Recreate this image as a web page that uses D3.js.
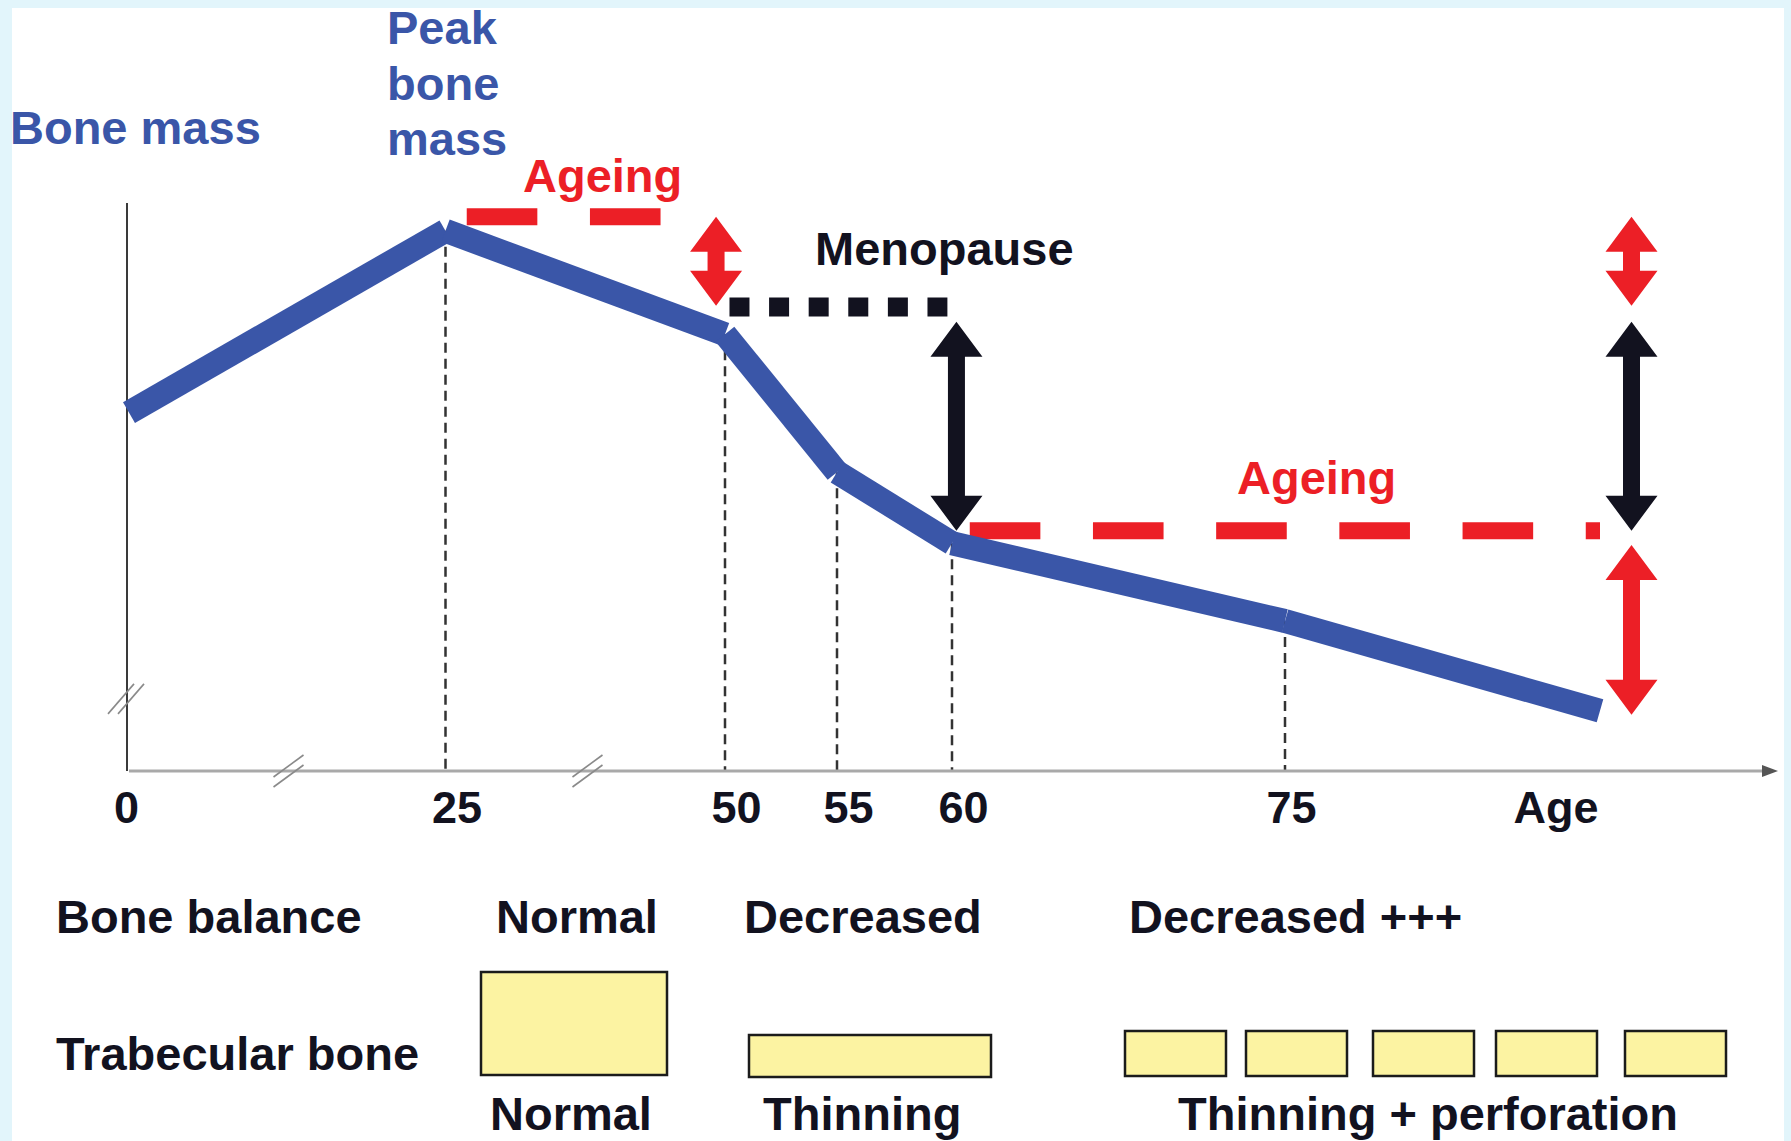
<!DOCTYPE html>
<html>
<head>
<meta charset="utf-8">
<script src="https://cdn.jsdelivr.net/npm/d3@7"></script>
<style>
  html, body { margin: 0; padding: 0; background: #e2f5fb; }
  svg { display: block; }
  text { font-family: "Liberation Sans", Arial, Helvetica, sans-serif; font-weight: bold; }
</style>
</head>
<body>
<svg id="chart" width="1791" height="1141"></svg>
<script>
// ---------------- DATA ----------------
const ages      = [0, 25, 50, 55, 60, 75, 89];
const boneMass  = [63.1, 95.1, 76.9, 52.6, 40.1, 26.4, 10.6];

const tickAges   = [0, 25, 50, 55, 60, 75];
const tickLabels = ["0", "25", "50", "55", "60", "75"];
const guideAges  = [25, 50, 55, 60, 75];

// reference (dashed) levels
const refKind  = ["ageing", "menopause", "ageing"];
const refLevel = [97.6, 81.7, 42.3];
const refFrom  = [26.9, 50.2, 60.8];
const refTo    = [48.9, 59.8, 89];

// double arrows
const arrowKind   = ["ageing", "menopause", "ageing", "menopause", "ageing"];
const arrowAge    = [49.2, 60.2, 90.4, 90.4, 90.4];
const arrowTop    = [97.6, 79.1, 97.6, 79.1, 39.8];
const arrowBottom = [81.9, 42.3, 81.9, 42.3, 9.9];

const annotLabels = ["Ageing", "Menopause", "Ageing"];

const rowTitles     = ["Bone balance", "Trabecular bone"];
const balanceLabels = ["Normal", "Decreased", "Decreased +++"];
const boneLabels    = ["Normal", "Thinning", "Thinning + perforation"];
const plateCounts   = [1, 1, 5];

// ---------------- STYLE / LAYOUT ----------------
const BLUE = "#3a56a8", RED = "#ec1f26", DARK = "#12121f";
const kindColor = { ageing: RED, menopause: DARK };
const FS = 47;

const svg = d3.select("#chart");
svg.append("rect").attr("x", 0).attr("y", 0).attr("width", 1791).attr("height", 1141).attr("fill", "#e2f5fb");
svg.append("rect").attr("x", 12).attr("y", 8).attr("width", 1772).attr("height", 1133).attr("fill", "#ffffff");

// piecewise (broken) age axis
const x = d3.scaleLinear()
  .domain([0, 25, 50, 55, 60, 75, 89])
  .range([129, 445.5, 725, 837, 952, 1285, 1600]);
const y = d3.scaleLinear().domain([0, 100]).range([771, 203]);

// dashed guide verticals
const massAt = a => boneMass[ages.indexOf(a)];
svg.append("g").selectAll("line").data(guideAges).join("line")
  .attr("x1", d => x(d)).attr("x2", d => x(d))
  .attr("y1", d => y(massAt(d))).attr("y2", y(0))
  .attr("stroke", "#333").attr("stroke-width", 2.5).attr("stroke-dasharray", "10,6");

// x axis line (gray) with arrow
svg.append("line").attr("x1", x(0)).attr("x2", 1764).attr("y1", y(0)).attr("y2", y(0))
  .attr("stroke", "#a9a9a9").attr("stroke-width", 3);
svg.append("path").attr("d", `M1762,${y(0) - 6}L1778,${y(0)}L1762,${y(0) + 6}Z`).attr("fill", "#555");

// y axis
svg.append("line").attr("x1", x(0) - 2).attr("x2", x(0) - 2).attr("y1", y(100)).attr("y2", y(0))
  .attr("stroke", "#3a3a3a").attr("stroke-width", 2);

// axis breaks
function brk(cx, cy, dx, dy, ox, oy) {
  const g = svg.append("g");
  [-1, 1].forEach(s => {
    g.append("line")
      .attr("x1", cx - dx + s * ox).attr("y1", cy + dy + s * oy)
      .attr("x2", cx + dx + s * ox).attr("y2", cy - dy + s * oy)
      .attr("stroke", "#8a8a8a").attr("stroke-width", 1.6);
  });
}
brk(x(12.6), y(0), 15, 11, 0, 5);
brk(x(37.7), y(0), 15, 11, 0, 5);
brk(x(0) - 3, y(12.7), 13, 15, 5, 0);

// tick labels via d3 axis
const tickDx = [-3, 11, 11, 11, 11, 6];
const axisG = svg.append("g").attr("transform", `translate(0,${y(0)})`)
  .call(d3.axisBottom(x).tickValues(tickAges).tickSize(0).tickPadding(20)
    .tickFormat((d, i) => tickLabels[i]));
axisG.select(".domain").remove();
axisG.selectAll("text")
  .attr("font-size", 45).attr("font-family", "Liberation Sans, Arial, sans-serif")
  .attr("font-weight", "bold").attr("fill", DARK)
  .attr("dy", "0.71em")
  .attr("dx", (d, i) => tickDx[i]);
svg.append("text").attr("x", 1556).attr("y", 823).attr("text-anchor", "middle")
  .attr("font-size", 45).attr("fill", DARK).text("Age");

// reference dashed lines
const refStyle = {
  ageing:    { w: 17, dash: "70.6,52.6" },
  menopause: { w: 19, dash: "20,19.6" }
};
svg.append("g").selectAll("line").data(refLevel).join("line")
  .attr("x1", (d, i) => x(refFrom[i])).attr("x2", (d, i) => x(refTo[i]))
  .attr("y1", d => y(d)).attr("y2", d => y(d))
  .attr("stroke", (d, i) => kindColor[refKind[i]])
  .attr("stroke-width", (d, i) => refStyle[refKind[i]].w)
  .attr("stroke-dasharray", (d, i) => refStyle[refKind[i]].dash);

// bone mass curve as butt-ended segments
const segs = d3.pairs(d3.zip(ages, boneMass));
const line = d3.line().x(d => x(d[0])).y(d => y(d[1]));
svg.append("g").selectAll("path").data(segs).join("path")
  .attr("d", d => line(d))
  .attr("fill", "none").attr("stroke", BLUE).attr("stroke-width", 24).attr("stroke-linecap", "butt");

// double arrows
function arrowPath(cx, y1, y2) {
  const hl = 35, hw = 26, sw = 8.5;
  const p = d3.path();
  p.moveTo(cx, y1);
  p.lineTo(cx + hw, y1 + hl); p.lineTo(cx + sw, y1 + hl);
  p.lineTo(cx + sw, y2 - hl); p.lineTo(cx + hw, y2 - hl);
  p.lineTo(cx, y2);
  p.lineTo(cx - hw, y2 - hl); p.lineTo(cx - sw, y2 - hl);
  p.lineTo(cx - sw, y1 + hl); p.lineTo(cx - hw, y1 + hl);
  p.closePath();
  return p.toString();
}
svg.append("g").selectAll("path").data(arrowAge).join("path")
  .attr("d", (d, i) => arrowPath(x(d), y(arrowTop[i]), y(arrowBottom[i])))
  .attr("fill", (d, i) => kindColor[arrowKind[i]]);

// annotations
const annotPos = [[523, 192], [815, 265], [1237, 494]];
svg.append("g").selectAll("text").data(annotLabels).join("text")
  .attr("x", (d, i) => annotPos[i][0]).attr("y", (d, i) => annotPos[i][1])
  .attr("font-size", FS).attr("fill", (d, i) => kindColor[refKind[i]])
  .text(d => d);

// blue titles
svg.append("text").attr("x", 10).attr("y", 144).attr("font-size", FS).attr("fill", BLUE).text("Bone mass");
svg.append("g").selectAll("text").data(["Peak", "bone", "mass"]).join("text")
  .attr("x", 387).attr("y", (d, i) => 44 + i * 55.5)
  .attr("font-size", FS).attr("fill", BLUE).text(d => d);

// bottom table
svg.append("g").selectAll("text").data(rowTitles).join("text")
  .attr("x", 56).attr("y", (d, i) => [933, 1070][i])
  .attr("font-size", FS).attr("fill", DARK).text(d => d);

const balX = [496, 744, 1129];
svg.append("g").selectAll("text").data(balanceLabels).join("text")
  .attr("x", (d, i) => balX[i]).attr("y", 933)
  .attr("font-size", FS).attr("fill", DARK).text(d => d);

const boneX = [490, 763, 1178];
svg.append("g").selectAll("text").data(boneLabels).join("text")
  .attr("x", (d, i) => boneX[i]).attr("y", 1130)
  .attr("font-size", FS).attr("fill", DARK).text(d => d);

// trabecular plates
const plateGeom = [
  { xs: [481], y0: 972, w: 186, h: 103 },
  { xs: [749], y0: 1035, w: 242, h: 42 },
  { xs: [1125, 1246, 1373, 1496, 1625], y0: 1031, w: 101, h: 45 }
];
const plates = [];
plateCounts.forEach((n, gi) => {
  for (let k = 0; k < n; k++) plates.push({ gi, k });
});
svg.append("g").selectAll("rect").data(plates).join("rect")
  .attr("x", d => plateGeom[d.gi].xs[d.k])
  .attr("y", d => plateGeom[d.gi].y0)
  .attr("width", d => plateGeom[d.gi].w)
  .attr("height", d => plateGeom[d.gi].h)
  .attr("fill", "#fcf3a2").attr("stroke", "#1b1b1b").attr("stroke-width", 2.5);
</script>
</body>
</html>
